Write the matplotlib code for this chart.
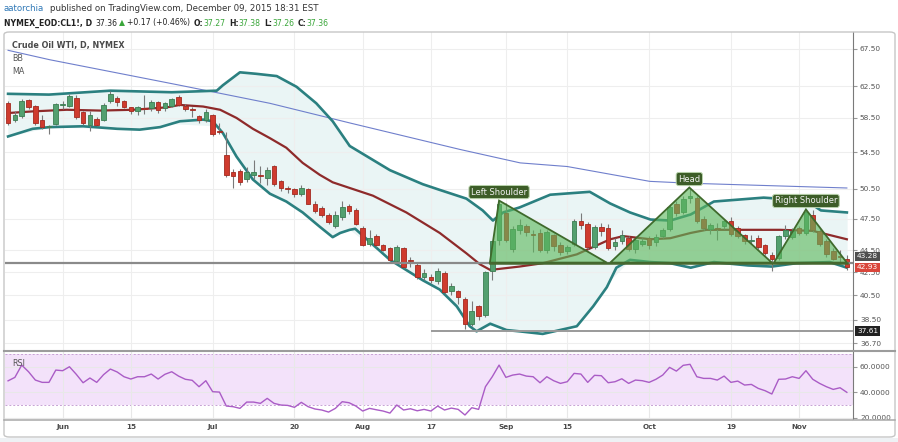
import numpy as np
import pandas as pd
import matplotlib
matplotlib.use("Agg")
import matplotlib.pyplot as plt
import matplotlib.transforms as mtransforms
from matplotlib.patches import Polygon, Rectangle, FancyBboxPatch
from matplotlib.lines import Line2D
from matplotlib.ticker import NullLocator
from matplotlib.colors import to_rgba

plt.rcParams['font.family'] = ['DejaVu Sans']

# trading days shown (May 19 - Nov 11 2015, exchange holidays removed)
dates = pd.bdate_range("2015-05-19", "2015-11-11")
dates = dates.drop(pd.to_datetime(["2015-05-25", "2015-07-03", "2015-09-07"]))

opens = [60.4, 58.3, 58.7, 60.7, 60.0, 58.3, 57.45, 57.8, 60.15, 60.0,
         61.0, 59.2, 57.7, 58.4, 58.3, 60.6, 61.0, 60.6, 59.8, 59.4,
         59.75, 59.7, 60.5, 59.7, 60.0, 61.1, 60.0, 59.55, 58.7, 58.2,
         58.8, 56.9, 54.2, 52.3, 52.4, 51.5, 52.0, 51.95, 51.7, 53.0,
         51.3, 50.6, 50.5, 50.0, 50.5, 49.0, 48.5, 47.8, 46.8, 47.6,
         48.7, 48.3, 46.6, 45.1, 45.8, 45.0, 44.7, 43.5, 44.7, 43.6,
         43.1, 42.1, 42.1, 41.7, 42.4, 40.9, 40.9, 40.2, 38.2, 39.6,
         38.9, 42.6, 45.4, 48.0, 44.6, 46.4, 46.8, 46.0, 46.1, 44.5,
         45.9, 45.0, 44.4, 45.1, 47.3, 47.0, 44.8, 46.7, 46.6, 44.9,
         45.3, 45.6, 44.6, 45.1, 45.6, 45.2, 45.8, 46.5, 48.9, 48.1,
         49.6, 49.6, 47.5, 46.5, 46.55, 46.8, 47.3, 46.6, 45.9, 45.3,
         45.6, 45.0, 44.0, 43.8, 45.8, 45.7, 46.6, 46.1, 47.8, 46.3,
         45.3, 44.4, 43.95, 43.7]
highs = [60.6, 59.3, 60.9, 60.9, 60.1, 58.9, 57.7, 60.4, 60.6, 61.5,
         61.4, 59.3, 59.3, 58.6, 60.3, 61.8, 61.2, 60.7, 59.9, 60.0,
         61.3, 60.7, 60.6, 60.5, 61.0, 61.3, 60.2, 59.9, 58.9, 59.6,
         59.0, 57.9, 56.8, 52.6, 52.6, 52.8, 53.6, 53.0, 52.8, 53.1,
         51.4, 50.8, 50.6, 50.9, 50.6, 49.3, 48.7, 48.0, 48.2, 49.3,
         49.0, 48.5, 46.8, 46.4, 46.0, 45.1, 44.8, 45.0, 44.8, 43.9,
         43.3, 42.8, 42.3, 42.9, 42.6, 41.6, 41.0, 40.4, 40.0, 39.7,
         42.6, 45.3, 49.3, 49.1, 46.8, 47.5, 47.0, 46.4, 46.5, 46.4,
         46.0, 45.2, 45.0, 47.5, 48.0, 47.2, 46.9, 47.1, 47.0, 45.6,
         46.4, 45.8, 45.6, 45.6, 45.8, 46.0, 46.6, 48.8, 49.3, 49.8,
         50.6, 49.8, 47.7, 47.1, 47.1, 47.5, 47.6, 46.8, 46.0, 45.9,
         45.9, 45.1, 44.3, 45.9, 46.9, 46.6, 46.8, 48.4, 48.3, 46.5,
         45.5, 44.7, 44.5, 44.0]
lows = [57.7, 58.0, 58.5, 59.6, 57.6, 57.2, 56.6, 57.6, 59.6, 59.8,
        58.4, 57.7, 56.9, 57.5, 58.1, 60.4, 60.0, 59.7, 59.0, 58.8,
        59.0, 59.3, 59.1, 59.4, 59.8, 60.0, 59.4, 58.6, 57.9, 58.0,
        56.4, 56.6, 51.8, 50.6, 50.9, 51.2, 51.6, 51.1, 50.9, 50.8,
        50.3, 50.1, 49.7, 49.8, 48.9, 48.0, 47.6, 47.0, 46.6, 47.4,
        47.9, 46.9, 44.9, 44.9, 44.8, 44.4, 43.5, 43.3, 42.9, 43.0,
        41.9, 41.8, 41.6, 41.5, 40.6, 40.5, 39.8, 37.8, 38.0, 38.5,
        38.7, 41.8, 45.0, 45.2, 44.3, 46.0, 45.8, 44.3, 44.3, 44.2,
        44.4, 44.0, 44.1, 44.9, 46.5, 44.6, 44.6, 45.8, 44.5, 44.5,
        45.1, 44.4, 44.2, 44.9, 44.6, 44.9, 45.6, 46.3, 47.7, 47.9,
        49.1, 47.1, 46.4, 46.0, 45.4, 46.5, 45.8, 45.6, 45.1, 45.1,
        44.6, 44.0, 42.6, 43.6, 45.5, 45.5, 45.9, 45.9, 46.2, 44.9,
        43.9, 43.6, 43.4, 42.7]
closes = [57.9, 58.9, 60.6, 59.8, 57.9, 57.4, 57.55, 60.2, 60.25, 61.2,
          58.6, 57.9, 58.8, 57.7, 60.1, 61.5, 60.5, 59.8, 59.4, 59.8,
          59.55, 60.5, 59.5, 60.3, 60.8, 60.1, 59.6, 59.45, 58.2, 59.2,
          56.6, 56.8, 52.0, 51.9, 51.2, 52.3, 52.3, 51.85, 52.5, 51.0,
          50.6, 50.5, 50.0, 50.6, 49.0, 48.2, 47.8, 47.2, 47.8, 48.6,
          48.2, 47.0, 45.0, 45.6, 45.0, 44.5, 43.6, 44.8, 43.0, 43.5,
          42.1, 42.4, 41.8, 42.6, 40.8, 41.3, 40.4, 38.2, 39.2, 38.8,
          42.5, 45.3, 49.0, 45.4, 46.5, 46.9, 46.2, 45.9, 44.5, 46.2,
          44.9, 44.3, 44.8, 47.3, 46.9, 44.8, 46.7, 46.3, 44.7, 45.2,
          45.9, 44.6, 45.4, 45.3, 45.0, 45.7, 46.4, 48.6, 48.0, 49.5,
          49.8, 47.3, 46.6, 46.9, 46.45, 47.3, 46.0, 45.8, 45.3, 45.4,
          44.8, 44.2, 43.7, 45.8, 46.4, 46.3, 46.1, 48.1, 46.4, 45.1,
          44.1, 43.7, 43.85, 42.93]

# Bollinger bands / moving averages, sampled along the bar index
bb_up_x = [0, 6, 15, 24, 30.6, 31.5, 34, 36.4, 39.4, 42.3, 45.2, 47.6, 50.1, 56, 60.8,
           63.3, 67.2, 69.6, 71.1, 72.6, 75, 79.5, 85.3, 88.3, 91.2, 94.2, 97.1, 100.1,
           103.5, 110.8, 117, 119.2, 123]
bb_up = [61.5, 61.4, 61.9, 61.7, 61.9, 62.6, 64.3, 64.1, 63.8, 62.4, 60.3, 58.1, 55.2, 52.5, 51.0,
         50.4, 49.5, 48.3, 47.3, 48.1, 48.6, 49.9, 50.2, 49.0, 48.1, 47.4, 47.3, 47.9,
         49.2, 49.6, 49.3, 48.3, 48.1]
bb_lo_x = [0, 3.6, 6.1, 11, 16, 19.3, 22.3, 25.2, 28.6, 30, 31.5, 33.5, 35.9, 38.4, 40.8,
           43.2, 45.7, 47.6, 48.7, 50.1, 50.9, 53.5, 56, 60.8, 63.3, 65.8, 67.7, 68.7, 70.7,
           73.1, 75, 78.4, 83.4, 85.8, 87.8, 89.2, 91.2, 94.2, 97.1, 100.1, 103.5, 108.5,
           112, 115.6, 120.5, 123]
bb_lo = [56.3, 57.2, 57.4, 57.5, 57.2, 57.1, 57.4, 58.1, 58.3, 58.1, 56.7, 54.0, 51.5, 50.0, 49.2,
         48.1, 46.7, 45.7, 46.1, 46.4, 46.5, 45.0, 43.6, 41.8, 41.0, 39.6, 38.0, 37.6, 38.2,
         37.7, 37.6, 37.4, 38.0, 39.6, 41.2, 42.9, 43.6, 43.4, 43.3, 42.9, 43.4, 43.1,
         43.0, 43.3, 43.4, 42.9]
ma_x = [0, 3.6, 8.6, 13.5, 18.3, 23.3, 25.2, 28.6, 31.1, 33.5, 35.9, 38.4, 40.8, 43.2, 45.7,
        47.6, 50.1, 53.5, 58.4, 63.3, 67.2, 69.2, 70.7, 75, 78.4, 83.4, 88.3, 90.2, 94.2,
        97.1, 100.1, 102.4, 108.3, 113.2, 118, 123]
ma = [59.1, 59.3, 59.5, 59.4, 59.5, 59.8, 60.1, 59.9, 59.5, 58.5, 57.2, 56.1, 55.0, 53.3, 52.0,
      51.2, 50.6, 49.8, 48.1, 46.1, 44.2, 43.2, 42.7, 43.0, 43.3, 44.1, 45.5, 45.8, 45.5,
      45.6, 46.1, 46.4, 46.4, 46.4, 46.3, 45.5]
slow_ma_x = [0, 6.1, 21.2, 25.2, 38.4, 50.1, 66.3, 75.1, 82, 94.1, 100, 123]
slow_ma = [67.3, 66.0, 63.3, 62.6, 60.3, 57.9, 54.8, 53.3, 52.9, 51.3, 51.1, 50.6]

rsi = [49.0, 51.7, 61.3, 56.1, 49.6, 47.8, 47.8, 57.4, 56.9, 60.0, 54.1, 47.5, 51.2, 47.8,
       53.8, 58.2, 55.9, 52.2, 50.4, 52.2, 52.2, 54.3, 50.4, 54.1, 56.1, 52.7, 50.2, 49.4,
       44.4, 49.1, 40.5, 40.2, 29.3, 28.8, 27.5, 32.4, 32.4, 31.4, 35.3, 31.4, 30.1, 29.8,
       28.3, 32.2, 28.8, 27.0, 26.2, 24.6, 27.5, 32.7, 31.9, 29.3, 25.4, 27.5, 26.4, 25.4,
       23.8, 30.1, 26.2, 27.2, 25.6, 26.7, 25.4, 29.3, 26.2, 27.7, 26.7, 22.3, 28.0, 26.7,
       44.4, 52.2, 61.3, 51.7, 53.5, 54.3, 52.7, 52.2, 47.5, 52.2, 49.1, 47.0, 48.3, 54.8,
       54.3, 47.8, 53.3, 53.0, 47.5, 48.3, 50.6, 47.0, 49.6, 49.1, 47.8, 50.2, 53.5, 59.5,
       56.6, 61.1, 61.9, 52.2, 50.9, 50.9, 49.6, 52.7, 47.8, 48.8, 45.7, 46.2, 43.1, 41.3,
       38.7, 50.2, 50.4, 52.2, 50.9, 56.9, 50.2, 47.0, 44.4, 42.3, 43.6, 40.0]

# head & shoulders drawing (bar index, price)
neckline = 43.35
pattern_names = ["Left Shoulder", "Head", "Right Shoulder"]
pattern_x = [[70.65, 72.0, 87.8], [88.3, 99.9, 112.0], [112.3, 117.0, 123.0]]
pattern_top = [49.3, 50.65, 48.4]

hline_price = 43.28
ray_price = 37.61
ray_start = "2015-08-17"
last_price = 42.93

price_ticks = [67.5, 62.5, 58.5, 54.5, 50.5, 47.5, 44.5, 42.5, 40.5, 38.5, 36.7]
tick_dates = ["2015-06-01", "2015-06-15", "2015-07-01", "2015-07-20", "2015-08-03",
              "2015-08-17", "2015-09-01", "2015-09-15", "2015-10-01", "2015-10-19",
              "2015-11-02"]
tick_labels = ["Jun", "15", "Jul", "20", "Aug", "17", "Sep", "15", "Oct", "19", "Nov"]

# ---- layout ----
W, H = 898, 442
fig = plt.figure(figsize=(W / 100, H / 100), dpi=100)
fig.patch.set_facecolor("white")


def fx(x):
    return x / W


def fy(y):
    return 1 - y / H


ax = fig.add_axes([fx(5), fy(351), (853 - 5) / W, (351 - 32) / H])
rax = fig.add_axes([fx(5), fy(420), (853 - 5) / W, (420 - 351) / H], sharex=ax)

x = np.arange(len(dates))
tick_idx = [dates.get_loc(pd.Timestamp(d)) for d in tick_dates]

# bands
ax.fill_between(bb_up_x, np.interp(bb_up_x, bb_lo_x, bb_lo), bb_up, color="#eaf5f5", lw=0, zorder=1)
ax.fill_between(bb_lo_x, bb_lo, np.interp(bb_lo_x, bb_up_x, bb_up), color="#eaf5f5", lw=0, zorder=1)
ax.plot(slow_ma_x, slow_ma, color="#6f7fcc", lw=0.8, zorder=2)
ax.plot(bb_up_x, bb_up, color="#2b8080", lw=1.9, zorder=2)
ax.plot(bb_lo_x, bb_lo, color="#2b8080", lw=1.9, zorder=2)
ax.plot(ma_x, ma, color="#8e2a2a", lw=1.6, zorder=2)

# candles
o = np.array(opens)
c = np.array(closes)
up = c >= o
face = np.where(up, "#53a06f", "#cf3b2e")
edge = np.where(up, "#3b7d52", "#a32a20")
ax.vlines(x, lows, highs, color="#7a7a7a", lw=0.8, zorder=3)
body_lo = np.minimum(o, c)
body_h = np.maximum(np.abs(c - o), 0.04)
ax.bar(x, body_h, bottom=body_lo, width=0.68, color=face, edgecolor=edge, lw=0.6, zorder=4)

# horizontal lines
ax.axhline(hline_price, color="#8a8a8a", lw=1.6, zorder=4.5)
ax.hlines(ray_price, dates.get_loc(pd.Timestamp(ray_start)), 124.5, color="#9a9a9a", lw=1.4, zorder=4.5)

# pattern triangles
for name, px, top in zip(pattern_names, pattern_x, pattern_top):
    pts = [(px[0], neckline), (px[1], top), (px[2], neckline)]
    ax.add_patch(Polygon(pts, closed=True, facecolor=to_rgba("#5cb85c", 0.62),
                         edgecolor="#3f6a2c", lw=1.3, zorder=5))
    ax.annotate(name, xy=(px[1], top), xytext=(0, 4), textcoords="offset pixels",
                ha="center", va="bottom", fontsize=6, color="#f2f2f2", zorder=6,
                bbox=dict(boxstyle="round,pad=0.25,rounding_size=0.3", fc="#3d5d28",
                          ec="#b9d3ac", lw=0.7))
ax.plot([pattern_x[0][0], pattern_x[2][2]], [neckline, neckline], color="#46682f", lw=1.8, zorder=5.5)

ax.set_yscale("log")
ax.set_ylim(36.1, 69.9)
ax.set_xlim(-0.45, 123.9)
ax.yaxis.set_minor_locator(NullLocator())
ax.set_yticks(price_ticks)
ax.set_yticklabels([f"{p:.2f}" for p in price_ticks])
ax.yaxis.tick_right()
ax.tick_params(axis="y", length=3, color="#999999", labelcolor="#555555", labelsize=5.3, pad=2)
ax.set_xticks(tick_idx)
ax.tick_params(axis="x", length=0, labelbottom=False)
ax.grid(True, color="#eeeeee", lw=0.8, zorder=0)
for s in ["top", "left", "bottom"]:
    ax.spines[s].set_visible(False)
ax.spines["right"].set_color("#7a7a7a")

# price boxes on the scale
trans = mtransforms.blended_transform_factory(ax.transAxes, ax.transData)
for val, col, dy in [(hline_price, "#4f4f4f", 7), (last_price, "#d9463b", 0), (ray_price, "#222222", 0)]:
    ax.annotate(f"{val:.2f}", xy=(1.0, val), xycoords=trans, xytext=(4, dy),
                textcoords="offset pixels", ha="left", va="center", fontsize=5.3,
                color="white", annotation_clip=False, zorder=10,
                bbox=dict(boxstyle="square,pad=0.25", fc=col, ec="none"))

# RSI pane
rax.axhspan(30, 70, color="#f3e2fa", lw=0, zorder=0)
rax.axhline(70, color="#c7a2d4", lw=0.7, ls=(0, (2, 2)), zorder=1)
rax.axhline(30, color="#c7a2d4", lw=0.7, ls=(0, (2, 2)), zorder=1)
rax.plot(x, rsi, color="#aa5cc6", lw=1.0, zorder=3)
rax.set_ylim(18.4, 72.3)
rax.set_yticks([60, 40, 20])
rax.set_yticklabels(["60.0000", "40.0000", "20.0000"])
rax.yaxis.tick_right()
rax.tick_params(axis="y", length=3, color="#999999", labelcolor="#555555", labelsize=5.3, pad=2)
rax.set_xticks(tick_idx)
rax.set_xticklabels(tick_labels, fontweight="bold")
rax.tick_params(axis="x", length=0, labelsize=5.2, labelcolor="#4a4a4a", pad=3)
rax.grid(True, color="#e8e8e8", lw=0.8, zorder=0)
for s in ["top", "left", "bottom"]:
    rax.spines[s].set_visible(False)
rax.spines["right"].set_color("#7a7a7a")
rax.set_xlim(-0.45, 123.9)

# frame and separators
fig.add_artist(Rectangle((fx(853), fy(437)), fx(898) - fx(853), fy(420.5) - fy(437),
                         transform=fig.transFigure, fc="white", ec="none", zorder=5))
fig.add_artist(FancyBboxPatch((fx(4), fy(437)), fx(895) - fx(4), fy(32) - fy(437),
                              boxstyle="round,pad=0,rounding_size=0.006",
                              transform=fig.transFigure, fc="none", ec="#c6c6c6", lw=1, zorder=6))
fig.add_artist(Line2D([fx(4), fx(895)], [fy(351), fy(351)], color="#9c9c9c", lw=1.5, zorder=6))
fig.add_artist(Line2D([fx(4), fx(895)], [fy(420), fy(420)], color="#a8a8a8", lw=1.1, zorder=6))
fig.add_artist(Rectangle((0, 0), 1, fy(438), transform=fig.transFigure, fc="#eef1f4", ec="none", zorder=5))

# legend texts
fig.text(fx(12), fy(45.5), "Crude Oil WTI, D, NYMEX", fontsize=5.8, fontweight="bold", color="#4a4a4a", va="center")
fig.text(fx(12), fy(58.5), "BB", fontsize=5.8, color="#555555", va="center")
fig.text(fx(12), fy(71.5), "MA", fontsize=5.8, color="#555555", va="center")
fig.text(fx(12), fy(364), "RSI", fontsize=5.8, color="#555555", va="center")

# header
fig.text(fx(4), fy(8.5), "aatorchia", fontsize=6.2, color="#2f78b7", va="center")
fig.text(fx(50), fy(8.5), "published on TradingView.com, December 09, 2015 18:31 EST",
         fontsize=6.2, color="#333333", va="center")
green = "#3aa63a"
row = [("NYMEX_EOD:CL1!, D", "#222222", "bold", 3), ("37.36", "#222222", "normal", 2),
       ("\u25b2", green, "normal", 1.5), ("+0.17 (+0.46%)", "#222222", "normal", 4),
       ("O:", "#222222", "bold", 0.5), ("37.27", green, "normal", 3),
       ("H:", "#222222", "bold", 0.5), ("37.38", green, "normal", 3),
       ("L:", "#222222", "bold", 0.5), ("37.26", green, "normal", 3),
       ("C:", "#222222", "bold", 0.5), ("37.36", green, "normal", 0)]
renderer = fig.canvas.get_renderer()
xpos = 4.0
for txt, col, wt, gap in row:
    t = fig.text(fx(xpos), fy(23), txt, fontsize=5.6, color=col, fontweight=wt, va="center")
    xpos += t.get_window_extent(renderer).width + gap

fig.savefig("out.png", dpi=100)
